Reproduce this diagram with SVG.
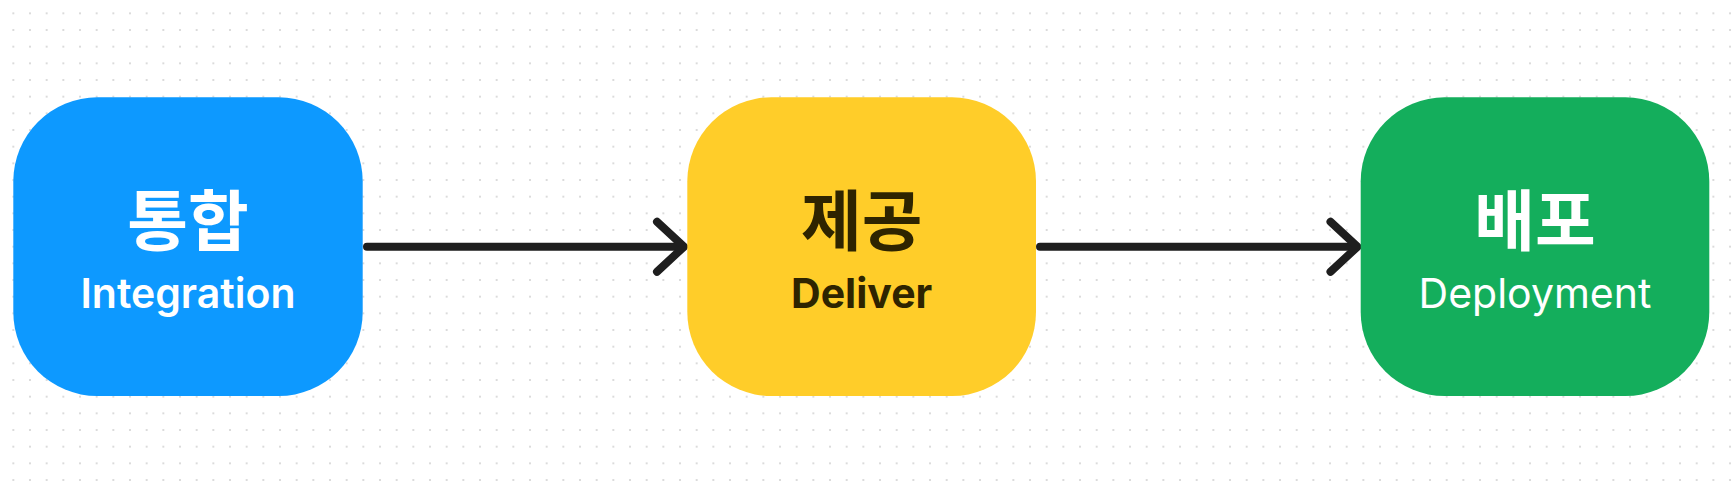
<svg xmlns="http://www.w3.org/2000/svg" width="1734" height="490" viewBox="0 0 1734 490">
<defs>
<pattern id="dots" x="13.33" y="13.33" width="16.667" height="16.667" patternUnits="userSpaceOnUse">
<circle cx="0" cy="0" r="1" fill="#cfcfcf"/>
<circle cx="16.667" cy="0" r="1" fill="#cfcfcf"/>
<circle cx="0" cy="16.667" r="1" fill="#cfcfcf"/>
<circle cx="16.667" cy="16.667" r="1" fill="#cfcfcf"/>
</pattern>
<style>
.ko{font-family:"Noto Sans CJK KR","Noto Sans",sans-serif;font-weight:700;font-size:66px;text-anchor:middle}
.en{font-family:Inter,"Liberation Sans",sans-serif;font-size:41px;text-anchor:middle}
.conn{stroke:#1e1e1e;stroke-width:8;fill:none;stroke-linecap:round;stroke-linejoin:round}
</style>
</defs>
<rect width="1734" height="490" fill="#ffffff"/>
<rect width="1734" height="490" fill="url(#dots)"/>
<g id="connectors">
<path class="conn" d="M367 246.7 H683"/>
<path class="conn" d="M657 221.7 L684 246.7 L657 271.7"/>
<path class="conn" d="M1040 246.7 H1356"/>
<path class="conn" d="M1330.5 221.7 L1357.5 246.7 L1330.5 271.7"/>
</g>
<g id="node-integration">
<rect x="13.3" y="97.3" width="349.4" height="298.7" rx="84" fill="#0d99ff"/>
<text class="ko" x="188" y="245" fill="#ffffff">통합</text>
<text class="en" x="188" y="307.7" fill="#ffffff" font-weight="600">Integration</text>
</g>
<g id="node-deliver">
<rect x="687.3" y="97.3" width="348.7" height="298.7" rx="84" fill="#ffcd29"/>
<text class="ko" x="861.7" y="245" fill="#2e2400">제공</text>
<text class="en" x="861.7" y="307.7" fill="#2e2400" font-weight="700">Deliver</text>
</g>
<g id="node-deployment">
<rect x="1360.7" y="97.3" width="348.6" height="298.7" rx="84" fill="#14ae5c"/>
<text class="ko" x="1535" y="245" fill="#ffffff">배포</text>
<text class="en" x="1535" y="307.7" fill="#ffffff" font-weight="400">Deployment</text>
</g>
</svg>
